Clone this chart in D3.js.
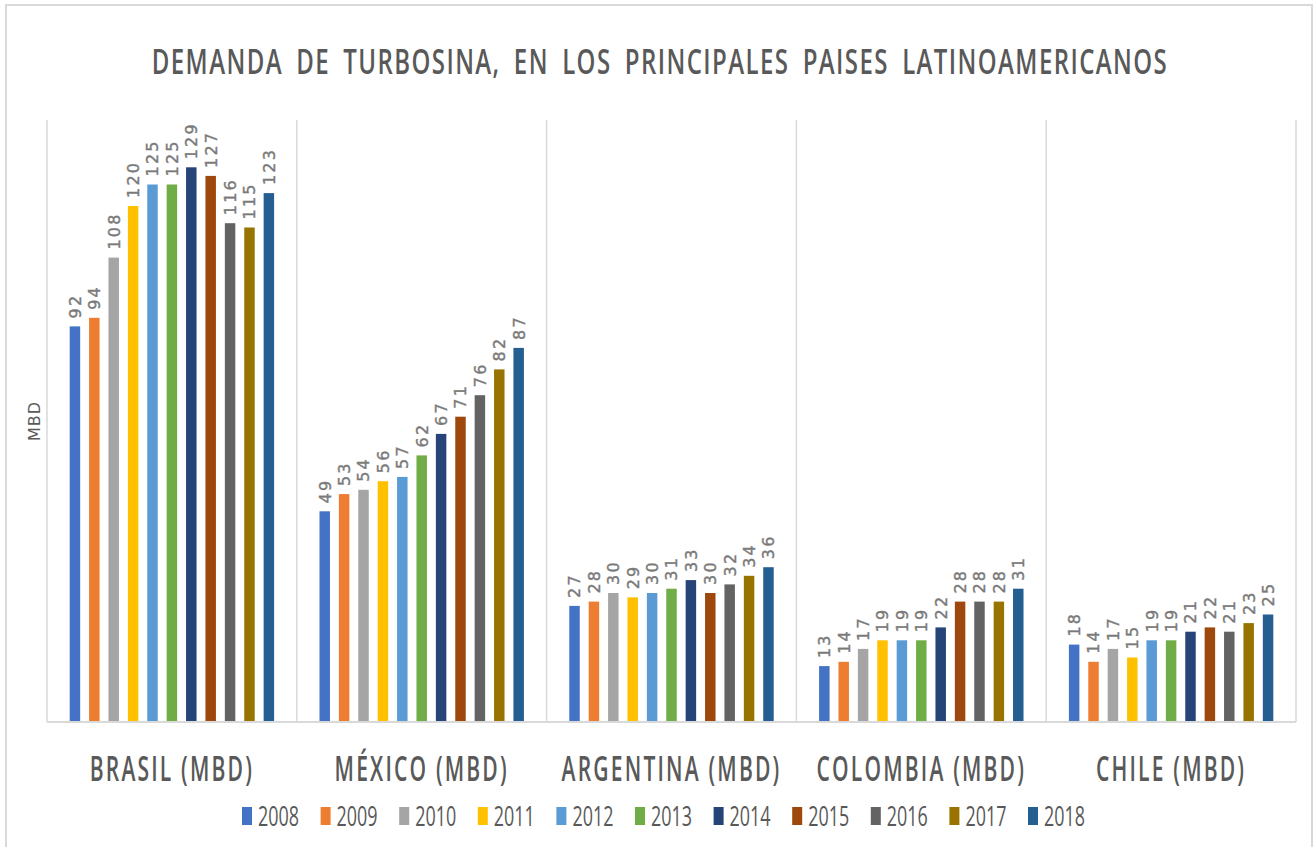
<!DOCTYPE html>
<html>
<head>
<meta charset="utf-8">
<script src="https://cdn.jsdelivr.net/npm/d3@7"></script>
<style>
  body { margin: 0; background: #fff; }
  svg { display: block; }
</style>
</head>
<body>
<div id="chart"></div>
<script>
// --- Data ---
const COUNTRIES = ['BRASIL (MBD)', 'MÉXICO (MBD)', 'ARGENTINA (MBD)', 'COLOMBIA (MBD)', 'CHILE (MBD)'];
const YEARS = ['2008', '2009', '2010', '2011', '2012', '2013', '2014', '2015', '2016', '2017', '2018'];
const BRASIL = [92, 94, 108, 120, 125, 125, 129, 127, 116, 115, 123];
const MEXICO = [49, 53, 54, 56, 57, 62, 67, 71, 76, 82, 87];
const ARGENTINA = [27, 28, 30, 29, 30, 31, 33, 30, 32, 34, 36];
const COLOMBIA = [13, 14, 17, 19, 19, 19, 22, 28, 28, 28, 31];
const CHILE = [18, 14, 17, 15, 19, 19, 21, 22, 21, 23, 25];
const YEAR_COLORS = ['#4472C4', '#ED7D31', '#A5A5A5', '#FFC000', '#5B9BD5', '#70AD47',
                     '#264478', '#9E480E', '#636363', '#997300', '#255E91'];

const SERIES = [BRASIL, MEXICO, ARGENTINA, COLOMBIA, CHILE];

const W = 1314, H = 847;
const margin = { top: 120, right: 18, bottom: 125, left: 47 };
const width = W - margin.left - margin.right;
const height = H - margin.top - margin.bottom;

const root = d3.select('#chart').append('svg')
    .attr('width', W)
    .attr('height', H);

// outer frame
root.append('rect')
    .attr('x', 6).attr('y', 5)
    .attr('width', 1306).attr('height', 850)
    .attr('fill', '#fff')
    .attr('stroke', '#d9d9d9')
    .attr('stroke-width', 2);

const svg = root.append('g')
    .attr('transform', `translate(${margin.left},${margin.top})`);

// --- Scales ---
const x0 = d3.scaleBand()
    .domain(COUNTRIES)
    .range([0, width])
    .padding(0);

const x1 = d3.scaleBand()
    .domain(YEARS)
    .range([0, x0.bandwidth()])
    .paddingInner(0.46)
    .paddingOuter(1.17);

const y = d3.scaleLinear()
    .domain([0, 140])
    .range([height, 0]);

const color = d3.scaleOrdinal().domain(YEARS).range(YEAR_COLORS);

// narrow-looking text: place it in a group that is squeezed horizontally
function squeezedText(parent, tx, ty, k) {
    return parent.append('g')
        .attr('transform', `translate(${tx},${ty}) scale(${k},1)`)
        .append('text');
}

// --- Category separators (vertical gridlines) ---
const bounds = COUNTRIES.map(c => x0(c)).concat([width]);
svg.selectAll('.sep')
    .data(bounds)
    .enter().append('line')
    .attr('x1', d => d).attr('x2', d => d)
    .attr('y1', 0).attr('y2', height)
    .attr('stroke', '#d9d9d9')
    .attr('stroke-width', 1.5);

// --- Bars ---
const groups = svg.selectAll('.country')
    .data(COUNTRIES.map((c, i) => ({ country: c, values: SERIES[i] })))
    .enter().append('g')
    .attr('transform', d => `translate(${x0(d.country)},0)`);

groups.selectAll('rect')
    .data(d => d.values.map((v, j) => ({ year: YEARS[j], value: v })))
    .enter().append('rect')
    .attr('x', d => x1(d.year))
    .attr('y', d => y(d.value))
    .attr('width', x1.bandwidth())
    .attr('height', d => height - y(d.value))
    .attr('fill', d => color(d.year));

// data labels, rotated
groups.selectAll('.lbl')
    .data(d => d.values.map((v, j) => ({ year: YEARS[j], value: v })))
    .enter().append('text')
    .attr('transform', d => `translate(${x1(d.year) + x1.bandwidth() / 2},${y(d.value) - 8}) rotate(-90)`)
    .attr('dy', '0.37em')
    .attr('font-family', 'DejaVu Sans, sans-serif')
    .attr('font-size', '16px')
    .attr('letter-spacing', '2.2px')
    .attr('stroke', '#7a7a7a')
    .attr('stroke-width', 0.4)
    .attr('fill', '#7a7a7a')
    .text(d => d.value);

// baseline
svg.append('line')
    .attr('x1', 0).attr('x2', width)
    .attr('y1', height).attr('y2', height)
    .attr('stroke', '#d9d9d9')
    .attr('stroke-width', 2);

// --- Category labels ---
COUNTRIES.forEach(c => {
    squeezedText(svg, x0(c) + x0.bandwidth() / 2, height + 59, 0.62)
        .attr('text-anchor', 'middle')
        .attr('font-family', 'Open Sans, sans-serif')
        .attr('font-weight', 600)
        .attr('font-size', '34px')
        .attr('letter-spacing', '3.5px')
        .attr('fill', '#595959')
        .text(c);
});

// --- Title ---
squeezedText(root, 660, 74, 0.8)
    .attr('text-anchor', 'middle')
    .attr('font-family', 'Open Sans, sans-serif')
    .attr('font-weight', 600)
    .attr('font-size', '34px')
    .attr('letter-spacing', '2px')
    .attr('word-spacing', '8px')
    .attr('fill', '#595959')
    .text('DEMANDA DE TURBOSINA, EN LOS PRINCIPALES PAISES LATINOAMERICANOS')
    .each(function () {
        // fit the title to the width it has in the picture
        const w = this.getComputedTextLength();
        d3.select(this.parentNode).attr('transform', `translate(660,74) scale(${1016 / w},1)`);
    });

// --- Y axis label ---
root.append('text')
    .attr('transform', `translate(40,${margin.top + height / 2}) rotate(-90)`)
    .attr('text-anchor', 'middle')
    .attr('font-family', 'DejaVu Sans, sans-serif')
    .attr('font-size', '16px')
    .attr('letter-spacing', '1px')
    .attr('fill', '#595959')
    .text('MBD');

// --- Legend ---
const legendStep = 78.6;
const legend = root.append('g')
    .attr('transform', `translate(242,807)`);

const items = legend.selectAll('.leg')
    .data(YEARS)
    .enter().append('g')
    .attr('transform', (d, i) => `translate(${i * legendStep},0)`);

items.append('rect')
    .attr('width', 10)
    .attr('height', 18)
    .attr('fill', d => color(d));

items.each(function (d) {
    squeezedText(d3.select(this), 16, 19, 0.64)
        .attr('font-family', 'Open Sans, sans-serif')
        .attr('font-size', '28px')
        .attr('fill', '#595959')
        .text(d);
});
</script>
</body>
</html>
